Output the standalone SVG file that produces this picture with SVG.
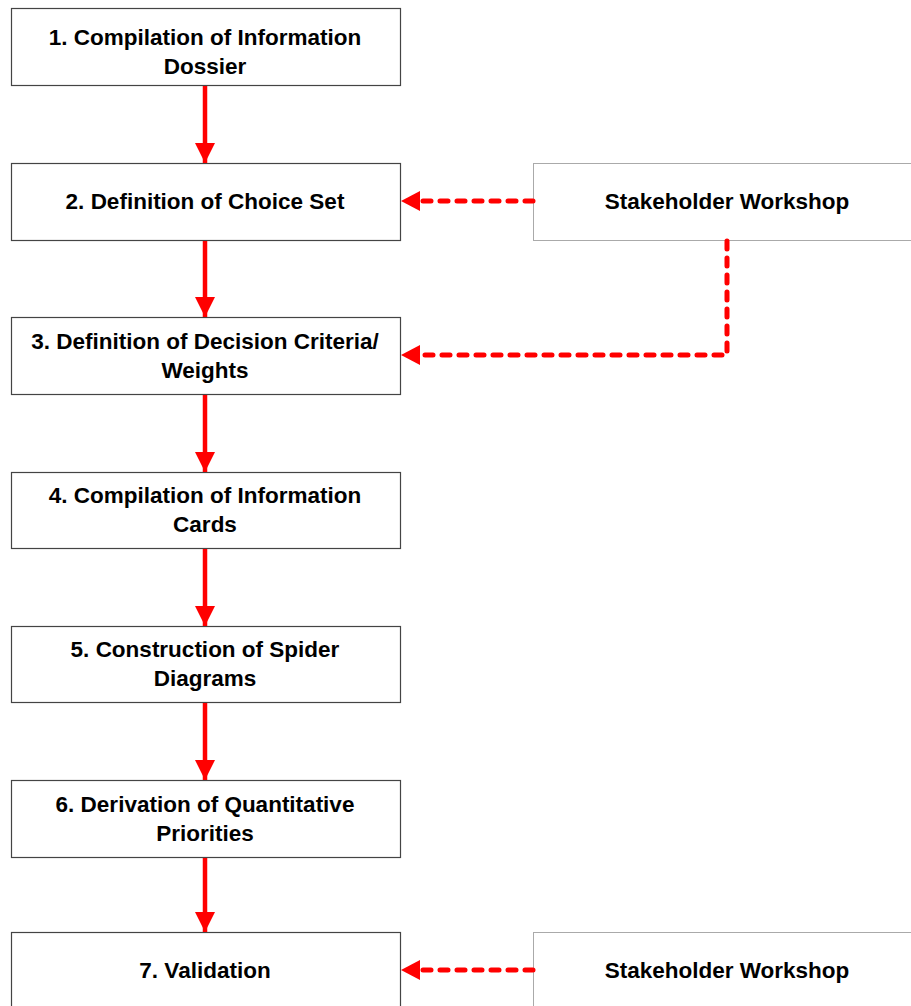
<svg xmlns="http://www.w3.org/2000/svg" width="911" height="1006" viewBox="0 0 911 1006">
<style>
.box{fill:#fff;stroke:#444;stroke-width:1.2}
.sw{fill:#fff;stroke:#555;stroke-width:1;stroke-dasharray:1 1}
.t{font-family:"Liberation Sans",Arial,sans-serif;font-weight:bold;font-size:22.5px;fill:#000;text-anchor:middle}
.solid{stroke:#ff0000;stroke-width:4.5;fill:none}
.dash{stroke:#ff0000;stroke-width:5;fill:none;stroke-dasharray:8 9;stroke-linecap:round;stroke-linejoin:round}
</style>
<defs>
<marker id="ah" viewBox="0 0 10 10" refX="10" refY="5" markerWidth="20" markerHeight="20" markerUnits="userSpaceOnUse" orient="auto">
<path d="M0,0 L10,5 L0,10 Z" fill="#ff0000"/>
</marker>
</defs>
<rect width="911" height="1006" fill="#fff"/>
<g id="n1"><rect class="box" x="11.5" y="8.5" width="389" height="77"/><text class="t" x="205" y="45">1. Compilation of Information</text><text class="t" x="205" y="74">Dossier</text></g>
<g id="n2"><rect class="box" x="11.5" y="163.5" width="389" height="77"/><text class="t" x="205" y="209">2. Definition of Choice Set</text></g>
<g id="n3"><rect class="box" x="11.5" y="317.5" width="389" height="77"/><text class="t" x="205" y="349">3. Definition of Decision Criteria/</text><text class="t" x="205" y="378">Weights</text></g>
<g id="n4"><rect class="box" x="11.5" y="472.5" width="389" height="76"/><text class="t" x="205" y="503">4. Compilation of Information</text><text class="t" x="205" y="532">Cards</text></g>
<g id="n5"><rect class="box" x="11.5" y="626.5" width="389" height="76"/><text class="t" x="205" y="657">5. Construction of Spider</text><text class="t" x="205" y="686">Diagrams</text></g>
<g id="n6"><rect class="box" x="11.5" y="780.5" width="389" height="77"/><text class="t" x="205" y="812">6. Derivation of Quantitative</text><text class="t" x="205" y="841">Priorities</text></g>
<g id="n7"><rect class="box" x="11.5" y="932.5" width="389" height="90"/><text class="t" x="205" y="978">7. Validation</text></g>
<g id="sw1"><rect class="sw" x="533.5" y="163.5" width="400" height="77"/><text class="t" x="727" y="209">Stakeholder Workshop</text></g>
<g id="sw2"><rect class="sw" x="533.5" y="932.5" width="400" height="90"/><text class="t" x="727" y="978">Stakeholder Workshop</text></g>
<g id="connectors">
<line class="solid" x1="205" y1="86" x2="205" y2="163" marker-end="url(#ah)"/>
<line class="solid" x1="205" y1="241" x2="205" y2="317" marker-end="url(#ah)"/>
<line class="solid" x1="205" y1="395" x2="205" y2="472" marker-end="url(#ah)"/>
<line class="solid" x1="205" y1="549" x2="205" y2="626" marker-end="url(#ah)"/>
<line class="solid" x1="205" y1="703" x2="205" y2="780" marker-end="url(#ah)"/>
<line class="solid" x1="205" y1="858" x2="205" y2="932" marker-end="url(#ah)"/>
<path class="dash" d="M533,201 L416,201"/>
<path d="M420,191 L401,201 L420,211 Z" fill="#ff0000"/>
<path class="dash" d="M727,241 L727,355 L416,355"/>
<path d="M420,345 L401,355 L420,365 Z" fill="#ff0000"/>
<path class="dash" d="M533,970 L416,970"/>
<path d="M420,960 L401,970 L420,980 Z" fill="#ff0000"/>
</g>
</svg>
